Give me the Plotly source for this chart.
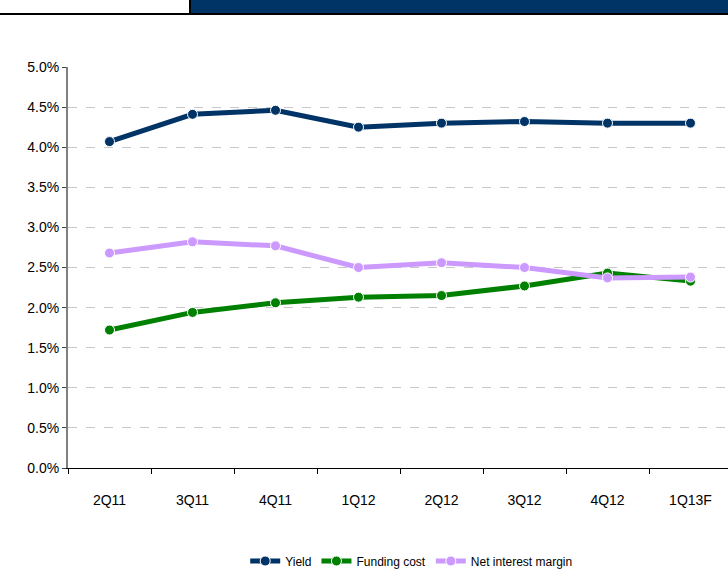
import plotly.graph_objects as go

categories = ["2Q11", "3Q11", "4Q11", "1Q12", "2Q12", "3Q12", "4Q12", "1Q13F"]
yield_vals = [4.07, 4.41, 4.46, 4.25, 4.30, 4.32, 4.30, 4.30]
funding_cost = [1.72, 1.94, 2.06, 2.13, 2.15, 2.27, 2.43, 2.33]
nim = [2.68, 2.82, 2.77, 2.50, 2.56, 2.50, 2.37, 2.38]
y_ticks = [0.0, 0.5, 1.0, 1.5, 2.0, 2.5, 3.0, 3.5, 4.0, 4.5, 5.0]
y_tick_labels = [f"{v:.1f}%" for v in y_ticks]

FONT = "Liberation Sans Narrow, Arial Narrow, Liberation Sans, Arial, sans-serif"

series = [
    ("Yield", yield_vals, "#003366"),
    ("Funding cost", funding_cost, "#008000"),
    ("Net interest margin", nim, "#CC99FF"),
]

fig = go.Figure()
xs = list(range(len(categories)))
for name, vals, color in series:
    fig.add_trace(go.Scatter(
        x=xs, y=vals, name=name, mode="lines+markers",
        line=dict(color=color, width=5),
        marker=dict(color=color, size=10, line=dict(color="white", width=1)),
    ))

# invisible trace to carry the label axis
fig.add_trace(go.Scatter(x=xs, y=[None] * len(xs), xaxis="x2", showlegend=False,
                         hoverinfo="skip", mode="lines"))

# plot area: x 68..728, y 67..468
L, R, T, B = 68, 728, 67, 468
W, H = R - L, B - T
def px(x):
    return (x - L) / W
def py(y):
    return (B - y) / H

shapes = [
    dict(type="rect", xref="paper", yref="paper", x0=px(191), x1=px(728), y0=py(13), y1=py(0),
         fillcolor="#003366", line=dict(width=0), layer="above"),
    dict(type="rect", xref="paper", yref="paper", x0=px(0), x1=px(728), y0=py(15), y1=py(13),
         fillcolor="black", line=dict(width=0), layer="above"),
    dict(type="rect", xref="paper", yref="paper", x0=px(189), x1=px(191), y0=py(14), y1=py(0),
         fillcolor="black", line=dict(width=0), layer="above"),
]

xrange = [-0.5, -0.5 + W / 83.0]
boundaries = [i - 0.5 for i in range(len(categories) + 1)]

fig.update_layout(
    width=728, height=569,
    margin=dict(l=L, r=0, t=T, b=569 - B, pad=0, autoexpand=False),
    paper_bgcolor="white", plot_bgcolor="white",
    font=dict(family=FONT, size=14, color="black"),
    showlegend=True,
    legend=dict(orientation="h", x=0.52, xanchor="center", y=py(561), yanchor="middle",
                font=dict(family=FONT, size=12, color="black"), itemwidth=30,
                traceorder="normal", borderwidth=0),
    shapes=shapes,
    xaxis=dict(
        tickmode="array", tickvals=boundaries, ticktext=[""] * len(boundaries),
        range=xrange,
        showgrid=False, zeroline=False,
        showline=True, linecolor="black", linewidth=1,
        ticks="outside", ticklen=5, tickcolor="black", tickwidth=1,
    ),
    xaxis2=dict(
        overlaying="x", anchor="y", side="bottom",
        tickmode="array", tickvals=xs, ticktext=categories,
        range=xrange, showgrid=False, zeroline=False, showline=False,
        ticks="", ticklabelstandoff=22,
        tickfont=dict(family=FONT, size=14, color="black"),
    ),
    yaxis=dict(
        range=[0, 5.0], tickmode="array", tickvals=y_ticks, ticktext=y_tick_labels,
        showgrid=True, gridcolor="#c8c8c8", griddash="dash", gridwidth=1,
        zeroline=False, showline=True, linecolor="#808080", linewidth=2,
        ticks="outside", ticklen=4, tickcolor="#404040",
        tickfont=dict(family=FONT, size=14, color="black"),
    ),
)

fig.write_html("out.html", config={"displayModeBar": False},
               post_script="document.body.style.margin='0';document.body.style.overflow='hidden';")
